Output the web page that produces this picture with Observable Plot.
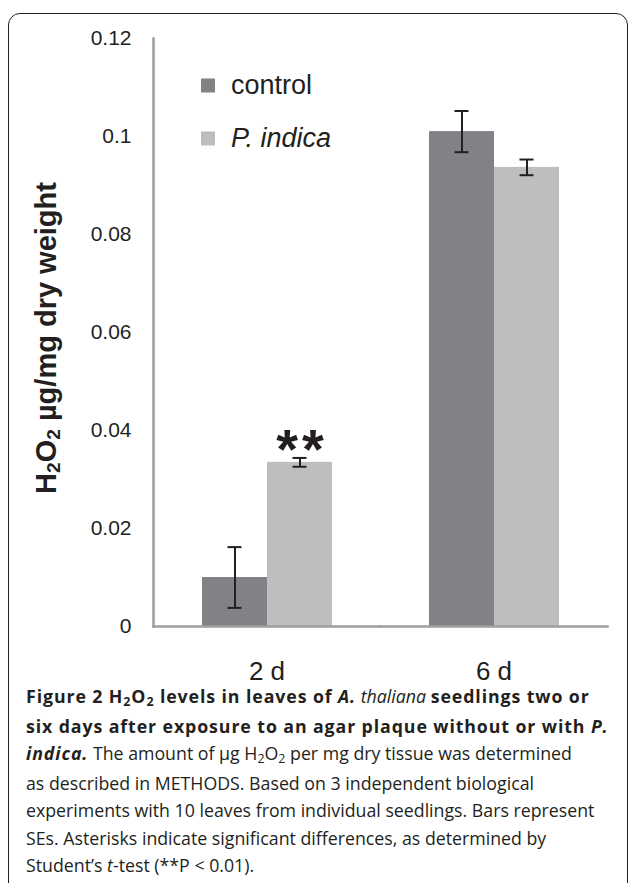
<!DOCTYPE html>
<html>
<head>
<meta charset="utf-8">
<script src="https://cdn.jsdelivr.net/npm/d3@7"></script>
<script src="https://cdn.jsdelivr.net/npm/@observablehq/plot@0.6"></script>
<style>
  html, body { margin: 0; padding: 0; background: #fff; }
  #page { position: relative; width: 629px; height: 883px; overflow: hidden; color: #231f20;
          font-family: "Liberation Sans", Arial, sans-serif; }
  #frame { position: absolute; left: 8px; top: 13px; width: 620px; height: 920px;
           border: 1.6px solid #231f20; border-radius: 12px; box-sizing: border-box; }
  #chart { position: absolute; left: 0; top: 0; }
  #ylabel { position: absolute; left: 46px; top: 338px; transform: translate(-50%, -50%) rotate(-90deg);
            white-space: nowrap; font-weight: bold; font-size: 29px; line-height: 1; }
  #ylabel .sub { font-size: 0.66em; position: relative; top: 0.22em; }
  .legend-row { position: absolute; left: 201px; display: flex; align-items: center; transform: translateY(-50%);
                font-size: 27px; white-space: nowrap; }
  .legend-swatch { width: 14px; height: 14px; margin-right: 16px; }
  #caption { position: absolute; left: 26px; top: 683px; font-family: "Open Sans", sans-serif;
             font-size: 18px; line-height: 27.5px; color: #231f20; }
  #caption div { white-space: nowrap; }
  #caption b { letter-spacing: 0.9px; }
  #caption .sub { font-size: 0.7em; position: relative; top: 0.25em; }
</style>
</head>
<body>
<div id="page">
  <div id="frame"></div>
  <div id="chart"></div>
  <div id="ylabel">H<span class="sub">2</span>O<span class="sub">2</span> µg/mg dry weight</div>
  <div id="legend"></div>
  <div id="caption">
    <div class="cl"><b>Figure 2 H<span class="sub">2</span>O<span class="sub">2</span> levels in leaves of <i>A.</i></b> <i>thaliana</i> <b>seedlings two or</b></div>
    <div class="cl"><b>six days after exposure to an agar plaque without or with <i>P.</i></b></div>
    <div class="cl"><b><i>indica.</i></b> The amount of µg H<span class="sub">2</span>O<span class="sub">2</span> per mg dry tissue was determined</div>
    <div class="cl">as described in METHODS. Based on 3 independent biological</div>
    <div class="cl" id="refline">experiments with 10 leaves from individual seedlings. Bars represent</div>
    <div class="cl">SEs. Asterisks indicate significant differences, as determined by</div>
    <div class="cl">Student’s <i>t</i>-test (**P &lt; 0.01).</div>
  </div>
</div>
<script>
// ---- data ----
const days = ["2 d", "2 d", "6 d", "6 d"];
const treatments = ["control", "P. indica", "control", "P. indica"];
const means = [0.0100, 0.0335, 0.1010, 0.0937];
const errors = [0.0062, 0.0009, 0.0042, 0.0016];
const significance = ["", "**", "", ""];

const dayOrder = ["2 d", "6 d"];
const treatmentOrder = ["control", "P. indica"];
const treatmentColors = ["#808285", "#bcbec0"];
const yTicks = [0, 0.02, 0.04, 0.06, 0.08, 0.1, 0.12];

const data = days.map((d, i) => ({
  day: d, treatment: treatments[i], mean: means[i], se: errors[i], sig: significance[i]
}));

const ink = "#231f20";
const axisGray = "#9d9ea1";

const chart = Plot.plot({
  width: 629,
  height: 700,
  marginLeft: 153,
  marginRight: 22,
  marginTop: 38,
  marginBottom: 74,
  style: { fontFamily: '"Liberation Sans", Arial, sans-serif', color: ink, background: "transparent" },
  fx: { domain: dayOrder, padding: 0, label: null },
  x: { domain: treatmentOrder, paddingInner: 0, paddingOuter: 0.746, axis: null },
  y: { domain: [0, 0.12], axis: null },
  color: { domain: treatmentOrder, range: treatmentColors },
  marks: [
    Plot.barY(data, { fx: "day", x: "treatment", y: "mean", fill: "treatment" }),
    Plot.ruleX(data, { fx: "day", x: "treatment", y1: d => d.mean - d.se, y2: d => d.mean + d.se, stroke: ink, strokeWidth: 2 }),
    Plot.tickY(data, { fx: "day", x: "treatment", y: d => d.mean + d.se, insetLeft: 25.5, insetRight: 25.5, stroke: ink, strokeWidth: 2 }),
    Plot.tickY(data, { fx: "day", x: "treatment", y: d => d.mean - d.se, insetLeft: 25.5, insetRight: 25.5, stroke: ink, strokeWidth: 2 }),
    Plot.text(data.filter(d => d.sig), { fx: "day", x: "treatment", y: d => d.mean + d.se, text: "sig",
      fontSize: 56, fontWeight: "bold", dy: -8, fill: ink }),
    Plot.frame({ anchor: "left", facetAnchor: "left", stroke: axisGray, strokeWidth: 2.5 }),
    Plot.frame({ anchor: "bottom", stroke: axisGray, strokeWidth: 2.5 }),
    Plot.axisY({ ticks: yTicks, tickSize: 0, tickPadding: 22, fontSize: 21, label: null,
      tickFormat: d => String(+d.toFixed(2)) }),
    Plot.axisFx({ anchor: "bottom", tickSize: 0, tickPadding: 35, fontSize: 26, label: null })
  ]
});
document.getElementById("chart").appendChild(chart);

// spread the asterisks apart a little
d3.select(chart).selectAll('g[aria-label="text"] text')
  .attr("letter-spacing", "4px").attr("dx", 2);

// legend built from the same arrays
const legend = document.getElementById("legend");
treatmentOrder.forEach((t, i) => {
  const row = document.createElement("div");
  row.className = "legend-row";
  row.style.top = (85 + i * 53) + "px";
  const sw = document.createElement("div");
  sw.className = "legend-swatch";
  sw.style.background = treatmentColors[i];
  const lab = document.createElement(t === "P. indica" ? "i" : "span");
  lab.textContent = t;
  row.appendChild(sw);
  row.appendChild(lab);
  legend.appendChild(row);
});

// fit the caption font so the longest regular line spans the same width as in the figure
const ref = document.getElementById("refline");
const w = ref.getBoundingClientRect().width;
const fs = 18 * 582 / w;
document.getElementById("caption").style.fontSize = fs.toFixed(2) + "px";
</script>
</body>
</html>
